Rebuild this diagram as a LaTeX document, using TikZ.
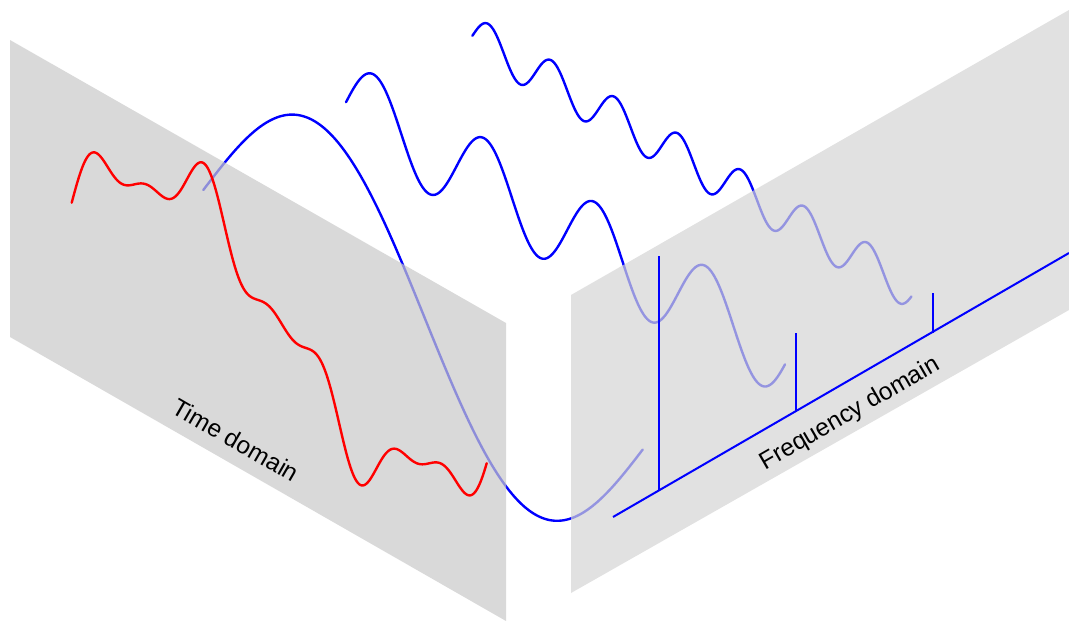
\documentclass[tikz,border=0pt]{standalone}
\usepackage{fontspec}
\setmainfont{Liberation Sans}
\definecolor{wblue}{RGB}{0,0,255}
\definecolor{wred}{RGB}{255,0,0}
\definecolor{lpanel}{RGB}{201,201,201}
\definecolor{rpanel}{RGB}{212,212,212}
\tikzset{
  wave/.style={draw=wblue, line width=2.4pt, line cap=round, line join=round},
  sig/.style={draw=wred, line width=2.4pt, line cap=round, line join=round},
  spike/.style={draw=wblue, line width=2pt},
  panelL/.style={fill=lpanel, fill opacity=0.7, draw=none},
  panelR/.style={fill=rpanel, fill opacity=0.7, draw=none},
  lbl/.style={font=\fontsize{24.5}{30}\selectfont, text=black, inner sep=0pt}
}
\begin{document}
\begin{tikzpicture}[x=1pt,y=-1pt]
\useasboundingbox (0,0) rectangle (1069,621);
% frequency components (period of fundamental 442.6)
\draw[wave] plot[domain=0:439.4, samples=220, smooth] ({203.3+\x},{190+0.577*\x-133*sin(0.8133755*\x)});
\draw[wave] plot[domain=0:439, samples=300, smooth] ({346+\x},{102.2+0.577*\x-43.7*sin(3.2535020*\x)});
\draw[wave] plot[domain=0:439, samples=400, smooth] ({472.4+\x},{35.8+0.577*\x-21*sin(5.6936285*\x)});
% panels
\coordinate (L1) at (10,40); \coordinate (L2) at (506,323);
\coordinate (L3) at (506,621); \coordinate (L4) at (10,337);
\coordinate (R1) at (571,295); \coordinate (R2) at (1069,10);
\coordinate (R3) at (1069,310); \coordinate (R4) at (571,593);
\path[panelL] (L1) -- (L2) -- (L3) -- (L4) -- cycle;
\path[panelR] (R1) -- (R2) -- (R3) -- (R4) -- cycle;
% time-domain signal
\draw[sig] plot[domain=0:415, samples=400, smooth] ({71.7+\x},{202.7+0.577*\x-82*(sin(0.8571429*\x)+0.33*sin(3.4285714*\x)+0.17*sin(6*\x))});
% frequency axis and spikes
\coordinate (F0) at (613,517); \coordinate (F1) at (1069,253);
\coordinate (S1b) at (659,490.7); \coordinate (S1t) at (659,256);
\coordinate (S4b) at (796,410.7); \coordinate (S4t) at (796,333);
\coordinate (S7b) at (933,333); \coordinate (S7t) at (933,293);
\draw[spike] (F0) -- (F1);
\draw[spike] (S1b) -- (S1t);
\draw[spike] (S4b) -- (S4t);
\draw[spike] (S7b) -- (S7t);
% labels
\node[lbl, rotate=-30] (tdom) at (236,440) {Time domain};
\node[lbl, rotate=30] (fdom) at (850,414) {Frequency domain};
\end{tikzpicture}
\end{document}
